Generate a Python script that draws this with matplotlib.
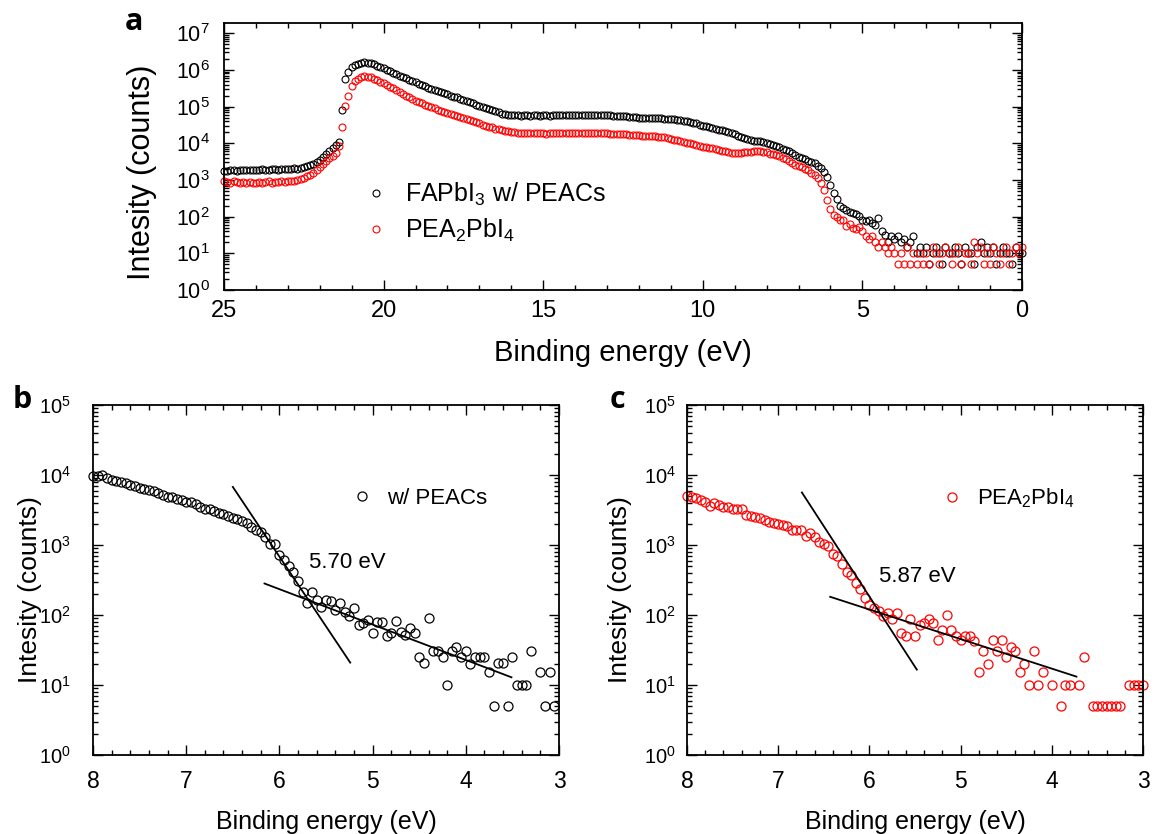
import numpy as np
import matplotlib
matplotlib.use("Agg")
import matplotlib.pyplot as plt
from matplotlib.ticker import MultipleLocator, LogLocator, NullFormatter

plt.rcParams['font.family'] = ['Liberation Sans', 'DejaVu Sans']
plt.rcParams['mathtext.fontset'] = 'custom'
plt.rcParams['mathtext.rm'] = 'Liberation Sans'
plt.rcParams['mathtext.it'] = 'Liberation Sans:italic'
plt.rcParams['mathtext.bf'] = 'Liberation Sans:bold'

# ---------------- Panel a data (0.1 eV step, 25.0 -> 0.0 eV), log10(counts) ----------------
energy_a = np.round(np.arange(250, -1, -1) * 0.1, 1)
log_black_a = [
    3.25, 3.24, 3.26, 3.27, 3.25, 3.26, 3.28, 3.27, 3.26, 3.28,
    3.28, 3.27, 3.29, 3.28, 3.27, 3.29, 3.30, 3.28, 3.29, 3.30,
    3.31, 3.30, 3.32, 3.31, 3.33, 3.35, 3.37, 3.40, 3.44, 3.49,
    3.55, 3.62, 3.72, 3.80, 3.88, 3.95, 4.04, 4.90, 5.74, 5.95,
    6.07, 6.13, 6.17, 6.20, 6.21, 6.20, 6.19, 6.16, 6.12, 6.08,
    6.04, 6.00, 5.96, 5.92, 5.88, 5.84, 5.80, 5.77, 5.73, 5.70,
    5.66, 5.62, 5.59, 5.55, 5.52, 5.48, 5.45, 5.42, 5.39, 5.36,
    5.33, 5.30, 5.27, 5.25, 5.22, 5.19, 5.16, 5.12, 5.09, 5.05,
    5.02, 4.99, 4.96, 4.93, 4.90, 4.87, 4.84, 4.81, 4.79, 4.78,
    4.77, 4.76, 4.76, 4.75, 4.76, 4.76, 4.75, 4.76, 4.76, 4.75,
    4.76, 4.76, 4.75, 4.76, 4.76, 4.77, 4.76, 4.77, 4.77, 4.76,
    4.77, 4.77, 4.78, 4.77, 4.77, 4.78, 4.77, 4.77, 4.76, 4.77,
    4.76, 4.76, 4.75, 4.75, 4.74, 4.73, 4.73, 4.72, 4.72, 4.71,
    4.70, 4.70, 4.69, 4.69, 4.69, 4.68, 4.68, 4.68, 4.67, 4.67,
    4.66, 4.65, 4.64, 4.63, 4.62, 4.60, 4.58, 4.56, 4.54, 4.51,
    4.48, 4.46, 4.44, 4.41, 4.39, 4.37, 4.35, 4.33, 4.30, 4.28,
    4.25, 4.21, 4.17, 4.14, 4.11, 4.09, 4.07, 4.06, 4.05, 4.04,
    4.00, 3.97, 3.94, 3.92, 3.89, 3.85, 3.82, 3.78, 3.74, 3.68,
    3.63, 3.60, 3.57, 3.53, 3.49, 3.45, 3.39, 3.32, 3.22, 3.08,
    2.86, 2.65, 2.47, 2.30, 2.23, 2.19, 2.14, 2.10, 2.07, 2.03,
    1.92, 1.88, 1.90, 1.82, 1.78, 1.95, 1.62, 1.50, 1.30, 1.48,
    1.40, 1.48, 1.30, 1.40, 1.18, 1.30, 1.48, 1.00, 1.18, 1.00,
    1.18, 0.70, 1.00, 1.18, 1.00, 0.70, 1.18, 1.00, 1.00, 1.18,
    1.00, 0.70, 1.18, 1.00, 1.00, 0.70, 1.18, 1.30, 1.00, 1.18,
    1.00, 1.18, 0.70, 1.00, 1.18, 1.00, 1.00, 0.70, 1.18, 1.00,
    1.00,
]
log_red_a = [
    2.97, 2.95, 2.93, 2.96, 2.94, 2.92, 2.95, 2.93, 2.94, 2.92,
    2.93, 2.95, 2.92, 2.94, 2.96, 2.93, 2.95, 2.94, 2.96, 2.95,
    2.97, 2.96, 2.98, 3.00, 3.03, 3.06, 3.10, 3.14, 3.20, 3.27,
    3.34, 3.43, 3.52, 3.60, 3.66, 3.74, 3.92, 4.45, 5.01, 5.30,
    5.56, 5.69, 5.76, 5.80, 5.83, 5.82, 5.80, 5.76, 5.72, 5.68,
    5.64, 5.59, 5.54, 5.50, 5.45, 5.40, 5.35, 5.30, 5.25, 5.21,
    5.16, 5.12, 5.09, 5.05, 5.02, 4.98, 4.95, 4.91, 4.88, 4.85,
    4.82, 4.79, 4.77, 4.74, 4.72, 4.69, 4.66, 4.63, 4.60, 4.57,
    4.54, 4.51, 4.48, 4.45, 4.43, 4.40, 4.38, 4.36, 4.34, 4.33,
    4.32, 4.30, 4.29, 4.29, 4.28, 4.28, 4.27, 4.28, 4.27, 4.27,
    4.27, 4.26, 4.27, 4.27, 4.28, 4.28, 4.28, 4.29, 4.28, 4.28,
    4.28, 4.29, 4.28, 4.28, 4.29, 4.28, 4.28, 4.27, 4.28, 4.27,
    4.27, 4.26, 4.26, 4.25, 4.25, 4.24, 4.24, 4.23, 4.23, 4.22,
    4.22, 4.21, 4.21, 4.20, 4.20, 4.19, 4.18, 4.17, 4.16, 4.14,
    4.12, 4.10, 4.08, 4.06, 4.04, 4.02, 4.00, 3.97, 3.95, 3.93,
    3.91, 3.90, 3.88, 3.86, 3.84, 3.82, 3.80, 3.78, 3.76, 3.74,
    3.73, 3.73, 3.74, 3.75, 3.76, 3.77, 3.78, 3.78, 3.78, 3.77,
    3.75, 3.72, 3.70, 3.67, 3.64, 3.60, 3.56, 3.52, 3.47, 3.42,
    3.37, 3.34, 3.30, 3.26, 3.20, 3.14, 3.04, 2.92, 2.72, 2.45,
    2.20, 2.05, 1.98, 1.92, 1.90, 1.75, 1.80, 1.70, 1.65, 1.72,
    1.60, 1.48, 1.40, 1.48, 1.30, 1.18, 1.30, 1.18, 1.00, 1.18,
    1.00, 0.70, 1.00, 0.70, 1.18, 0.70, 1.00, 0.70, 1.00, 0.70,
    1.00, 0.70, 1.18, 1.00, 0.70, 1.00, 1.18, 1.00, 0.70, 1.00,
    1.18, 0.70, 1.00, 1.00, 0.70, 1.30, 1.00, 1.18, 0.70, 1.00,
    0.70, 1.18, 1.00, 0.70, 1.00, 1.18, 0.70, 1.00, 1.18, 1.00,
    1.18,
]

# ---------------- Panel b data (0.05 eV step, 8.00 -> 3.05 eV) ----------------
energy_b = np.round(np.arange(160, 60, -1) * 0.05, 2)
log_b = [
    3.99, 3.98, 4.00, 3.96, 3.93, 3.92, 3.90, 3.88, 3.86, 3.84,
    3.82, 3.80, 3.79, 3.77, 3.75, 3.71, 3.69, 3.68, 3.66, 3.64,
    3.62, 3.62, 3.59, 3.55, 3.52, 3.51, 3.49, 3.46, 3.44, 3.41,
    3.39, 3.37, 3.35, 3.31, 3.26, 3.22, 3.19, 3.12, 3.02, 3.01,
    2.86, 2.79, 2.70, 2.62, 2.48, 2.33, 2.17, 2.33, 2.22, 2.12,
    2.22, 2.20, 2.07, 2.17, 2.05, 1.99, 2.10, 1.86, 1.88, 1.93,
    1.75, 1.90, 1.90, 1.70, 1.75, 1.91, 1.76, 1.71, 1.82, 1.75,
    1.40, 1.31, 1.96, 1.48, 1.48, 1.40, 1.00, 1.48, 1.55, 1.40,
    1.49, 1.30, 1.40, 1.40, 1.40, 1.18, 0.70, 1.31, 1.31, 0.70,
    1.40, 1.00, 1.00, 1.00, 1.48, np.nan, 1.18, 0.70, 1.18, 0.70,
]
fit_b_steep_E = [6.50, 5.24]
fit_b_steep_log = [3.83, 1.32]
fit_b_flat_E = [6.16, 3.51]
fit_b_flat_log = [2.45, 1.11]

# ---------------- Panel c data (0.05 eV step, 8.00 -> 3.00 eV) ----------------
energy_c = np.round(np.arange(160, 59, -1) * 0.05, 2)
log_c = [
    3.70, 3.69, 3.67, 3.64, 3.62, 3.56, 3.60, 3.57, 3.55, 3.54,
    3.52, 3.51, 3.51, 3.43, 3.41, 3.40, 3.38, 3.36, 3.33, 3.31,
    3.30, 3.29, 3.27, 3.22, 3.22, 3.21, 3.13, 3.17, 3.12, 3.05,
    3.02, 2.98, 2.87, 2.84, 2.73, 2.62, 2.57, 2.46, 2.37, 2.24,
    2.14, 2.10, 2.06, 1.98, 2.03, 1.95, 2.03, 1.75, 1.70, 1.95,
    1.70, 1.86, 1.89, 1.94, 1.89, 1.65, 1.79, 2.00, 1.79, 1.70,
    1.65, 1.70, 1.70, 1.63, 1.18, 1.48, 1.30, 1.65, 1.48, 1.65,
    1.40, 1.54, 1.48, 1.18, 1.30, 1.00, 1.48, 1.00, 1.18, np.nan,
    1.00, np.nan, 0.70, 1.00, 1.00, np.nan, 1.00, 1.40, np.nan, 0.70,
    0.70, 0.70, 0.70, 0.70, 0.70, 0.70, np.nan, 1.00, 1.00, 1.00,
    1.00,
]
fit_c_steep_E = [6.74, 5.48]
fit_c_steep_log = [3.75, 1.22]
fit_c_flat_E = [6.43, 3.73]
fit_c_flat_log = [2.26, 1.12]

onset_b = "5.70 eV"
onset_c = "5.87 eV"
label_black = r"FAPbI$_3$ w/ PEACs"
label_red = r"PEA$_2$PbI$_4$"
label_b = "w/ PEACs"

W, H = 1163, 834
fig = plt.figure(figsize=(W / 100, H / 100), dpi=100)


def frame(ax, xmaj, xmin, ylim, xlab_size, ylab_size, xpad, ypad, tick_len=7):
    ax.set_yscale('log')
    ax.set_ylim(*ylim)
    ax.xaxis.set_major_locator(MultipleLocator(xmaj))
    ax.xaxis.set_minor_locator(MultipleLocator(xmin))
    ax.yaxis.set_major_locator(LogLocator(base=10, numticks=20))
    ax.yaxis.set_minor_locator(LogLocator(base=10, subs=np.arange(2, 10), numticks=200))
    ax.yaxis.set_minor_formatter(NullFormatter())
    ax.tick_params(which='both', direction='in', top=True, right=True, width=1.0)
    ax.tick_params(which='major', length=tick_len)
    ax.tick_params(which='minor', length=tick_len * 0.5)
    ax.tick_params(axis='x', labelsize=xlab_size, pad=xpad)
    ax.tick_params(axis='y', labelsize=ylab_size, pad=ypad)
    for s in ax.spines.values():
        s.set_linewidth(1.3)


def tolin(v):
    return 10 ** np.asarray(v, dtype=float)


# ---------------- Panel a ----------------
axa = fig.add_axes([224 / W, 1 - 290 / H, 798 / W, 267 / H])
axa.plot(energy_a, tolin(log_black_a), 'o', mfc='none', mec='black', ms=5, mew=0.8,
         clip_on=False, label=label_black)
axa.plot(energy_a, tolin(log_red_a), 'o', mfc='none', mec='red', ms=5, mew=0.8,
         clip_on=False, label=label_red)
axa.set_xlim(25, 0)
frame(axa, 5, 1, (1, 1.9e7), 17, 15.5, 7, 10)
axa.set_xlabel("Binding energy (eV)", fontsize=21)
axa.xaxis.set_label_coords(0.5, -(353 - 290) / 267)
axa.xaxis.label.set_va('center')
axa.set_ylabel("Intesity (counts)", fontsize=22)
axa.yaxis.set_label_coords((142 - 224) / 798, 1 - (172 - 23) / 267)
axa.yaxis.label.set_va('center')
axa.legend(loc='center left', bbox_to_anchor=(0.175, 0.29), frameon=False,
           fontsize=18, handlelength=1.0, handletextpad=0.66, borderpad=0,
           borderaxespad=0, labelspacing=0.35)

# ---------------- Panel b ----------------
axb = fig.add_axes([93 / W, 1 - 755 / H, 466 / W, 350 / H])
axb.plot(energy_b, tolin(log_b), 'o', mfc='none', mec='black', ms=6.5, mew=0.9,
         clip_on=False, label=label_b)
axb.plot(fit_b_steep_E, tolin(fit_b_steep_log), '-', color='black', lw=1.3)
axb.plot(fit_b_flat_E, tolin(fit_b_flat_log), '-', color='black', lw=1.3)
axb.set_xlim(8, 3)
frame(axb, 1, 0.2, (1, 1e5), 16.5, 14.5, 11, 16)
axb.text(5.685, 10 ** 2.75, onset_b, fontsize=16, ha='left', va='center')
axb.set_xlabel("Binding energy (eV)", fontsize=18)
axb.xaxis.set_label_coords(0.5, -(822 - 755) / 350)
axb.xaxis.label.set_va('center')
axb.set_ylabel("Intesity (counts)", fontsize=19)
axb.yaxis.set_label_coords((30 - 93) / 466, 1 - (590 - 405) / 350)
axb.yaxis.label.set_va('center')
axb.legend(loc='center left', bbox_to_anchor=(0.553, 0.734), frameon=False,
           fontsize=16, handlelength=1.0, handletextpad=0.63, borderpad=0,
           borderaxespad=0)

# ---------------- Panel c ----------------
axc = fig.add_axes([687 / W, 1 - 755 / H, 456 / W, 350 / H])
axc.plot(energy_c, tolin(log_c), 'o', mfc='none', mec='red', ms=6.5, mew=0.9,
         clip_on=False, label=label_red)
axc.plot(fit_c_steep_E, tolin(fit_c_steep_log), '-', color='black', lw=1.3)
axc.plot(fit_c_flat_E, tolin(fit_c_flat_log), '-', color='black', lw=1.3)
axc.set_xlim(8, 3)
frame(axc, 1, 0.2, (1, 1e5), 16.5, 14.5, 11, 8)
axc.text(5.895, 10 ** 2.55, onset_c, fontsize=16, ha='left', va='center')
axc.set_xlabel("Binding energy (eV)", fontsize=18)
axc.xaxis.set_label_coords(0.5, -(822 - 755) / 350)
axc.xaxis.label.set_va('center')
axc.set_ylabel("Intesity (counts)", fontsize=19)
axc.yaxis.set_label_coords((620 - 687) / 456, 1 - (590 - 405) / 350)
axc.yaxis.label.set_va('center')
axc.legend(loc='center left', bbox_to_anchor=(0.556, 0.733), frameon=False,
           fontsize=16, handlelength=1.0, handletextpad=0.63, borderpad=0,
           borderaxespad=0)

# ---------------- Panel letters ----------------
for letter, (px, py) in {'a': (134, 22), 'b': (22, 400), 'c': (617, 400)}.items():
    fig.text(px / W, 1 - py / H, letter, fontsize=22, fontweight='bold',
             family=['Open Sans', 'DejaVu Sans'], ha='center', va='center')

fig.savefig("out.png", dpi=100)
